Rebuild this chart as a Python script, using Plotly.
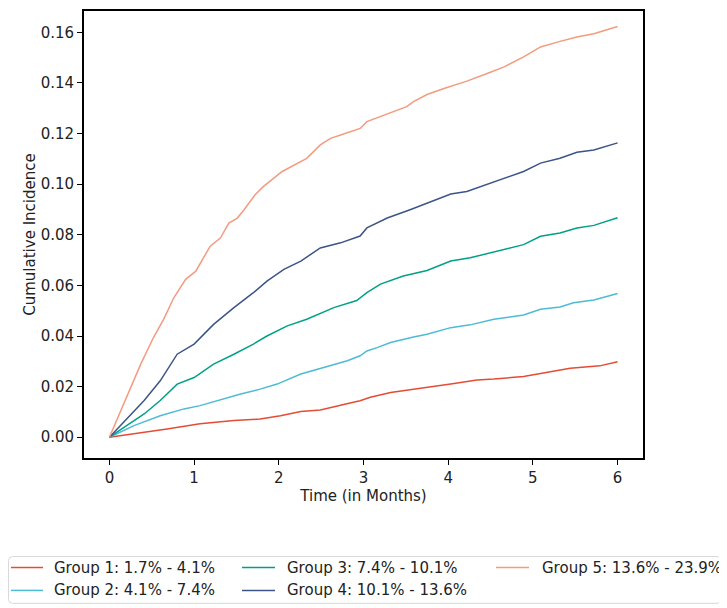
#!/usr/bin/env python3
"""Cumulative incidence by risk group, drawn with plotly."""
import plotly.graph_objects as go

# values (time in months, cumulative incidence)
G1_T = [0, .29, .68, 1.07, 1.47, 1.78, 2.02, 2.26, 2.49, 2.88, 2.96, 3.08, 3.32, 3.59,
        3.75, 4.03, 4.34, 4.54, 4.89, 5.09, 5.32, 5.44, 5.79, 6.0]
G1_V = [0, .0013, .0033, .0053, .0066, .0072, .0085, .0102, .0108, .0138, .0144, .0158,
        .0177, .0190, .0197, .0210, .0226, .0230, .0240, .0252, .0263, .0273, .0282, .0298]

G2_T = [0, .29, .60, .88, 1.07, 1.27, 1.55, 1.78, 1.98, 2.26, 2.53, 2.81, 2.96, 3.04,
        3.16, 3.32, 3.59, 3.75, 4.03, 4.26, 4.54, 4.89, 5.09, 5.32, 5.48, 5.72, 6.0]
G2_V = [0, .0046, .0085, .0112, .0125, .0145, .0171, .0190, .0210, .0250, .0276, .0302,
        .0322, .0341, .0354, .0374, .0396, .0407, .0433, .0444, .0466, .0483, .0506,
        .0515, .0531, .0542, .0568]

G3_T = [0, .41, .60, .80, 1.0, 1.23, 1.47, 1.70, 1.86, 2.10, 2.33, 2.65, 2.92, 3.04,
        3.20, 3.47, 3.75, 4.03, 4.26, 4.54, 4.89, 5.09, 5.32, 5.52, 5.72, 6.0]
G3_V = [0, .0092, .0145, .0210, .0236, .0289, .0328, .0368, .0400, .0440, .0466, .0512,
        .0540, .0571, .0605, .0637, .0659, .0696, .0709, .0732, .0761, .0794, .0807,
        .0827, .0837, .0867]

G4_T = [0, .41, .60, .80, 1.0, 1.23, 1.47, 1.70, 1.86, 2.06, 2.26, 2.49, 2.73, 2.96,
        3.04, 3.16, 3.28, 3.55, 3.75, 4.03, 4.22, 4.46, 4.66, 4.89, 5.09, 5.32, 5.52,
        5.72, 6.0]
G4_V = [0, .0145, .0223, .0328, .0368, .0446, .0512, .0571, .0617, .0663, .0696, .0748,
        .0768, .0795, .0827, .0846, .0866, .0899, .0925, .0961, .0971, .1000, .1024,
        .1050, .1083, .1102, .1126, .1135, .1163]

G5_T = [0, .27, .37, .52, .64, .76, .90, 1.02, 1.19, 1.31, 1.41, 1.51, 1.59, 1.72, 1.82,
        2.04, 2.18, 2.33, 2.49, 2.61, 2.73, 2.96, 3.04, 3.24, 3.51, 3.59, 3.75, 3.95,
        4.22, 4.46, 4.66, 4.89, 5.09, 5.32, 5.52, 5.72, 6.0]
G5_V = [0, .0210, .0289, .0394, .0466, .0551, .0624, .0656, .0755, .0787, .0846, .0866,
        .0899, .0958, .0991, .1050, .1076, .1102, .1155, .1181, .1194, .1220, .1247,
        .1273, .1306, .1326, .1354, .1378, .1407, .1437, .1463, .1503, .1542, .1564,
        .1581, .1594, .1623]

NAMES = ["Group 1: 1.7% - 4.1%", "Group 2: 4.1% - 7.4%", "Group 3: 7.4% - 10.1%",
         "Group 4: 10.1% - 13.6%", "Group 5: 13.6% - 23.9%"]
COLORS = ["#E64B35", "#4DBBD5", "#00A087", "#3C5488", "#F39B7F"]
SERIES = [(G1_T, G1_V), (G2_T, G2_V), (G3_T, G3_V), (G4_T, G4_V), (G5_T, G5_V)]

FONT = "DejaVu Sans"
# the page body keeps an 8px margin, so the figure is 8px smaller each way
W, H = 719, 600
ML, MR, MT, MB = 76, 84, 1, 150
PW, PH = W - ML - MR, H - MT - MB


def px_x(x):
    return (x - ML) / PW


def px_y(y):
    return (H - MB - y) / PH


fig = go.Figure()
for (t, v), name, color in zip(SERIES, NAMES, COLORS):
    fig.add_trace(go.Scatter(x=t, y=v, mode="lines", name=name, showlegend=False,
                             line=dict(color=color, width=1.5)))

axis_common = dict(showline=True, linecolor="black", linewidth=1.7, mirror=True,
                   ticks="outside", ticklen=5, tickwidth=1.2, tickcolor="black",
                   showgrid=False, zeroline=False,
                   tickfont=dict(family=FONT, size=15, color="#222"))

fig.update_xaxes(range=[-0.3, 6.3], tickvals=[0, 1, 2, 3, 4, 5, 6],
                 title=dict(text="Time (in Months)", standoff=4,
                            font=dict(family=FONT, size=15, color="#222")),
                 **axis_common)
fig.update_yaxes(range=[-0.0082, 0.1684], tickvals=[0, .02, .04, .06, .08, .10, .12, .14, .16],
                 tickformat=".2f",
                 title=dict(text="Cumulative Incidence", standoff=1,
                            font=dict(family=FONT, size=15, color="#222")),
                 **axis_common)

fig.update_layout(
    width=W, height=H,
    margin=dict(l=ML, r=MR, t=MT, b=MB),
    plot_bgcolor="white", paper_bgcolor="white",
    showlegend=False,
)

# legend drawn by hand, 3 columns filled top to bottom (matplotlib ncol=3 style)
ROWS_Y = [560, 583]
COLS = [(3, 35, 44), (234, 267, 277), (488, 521, 532)]  # line start, line end, text x
for i, (name, color) in enumerate(zip(NAMES, COLORS)):
    lx0, lx1, tx = COLS[i // 2]
    ry = ROWS_Y[i % 2]
    fig.add_shape(type="line", xref="paper", yref="paper",
                  x0=px_x(lx0), x1=px_x(lx1), y0=px_y(ry), y1=px_y(ry),
                  line=dict(color=color, width=1.5))
    fig.add_annotation(text=name, xref="paper", yref="paper", x=px_x(tx), y=px_y(ry),
                       xanchor="left", yanchor="middle", showarrow=False,
                       font=dict(family=FONT, size=15, color="#222"))

# rounded legend frame
x0, x1 = px_x(0.5), px_x(713)
y0, y1 = px_y(596), px_y(549)
rx, ry = 4 / PW, 4 / PH
path = (f"M {x0 + rx},{y0} L {x1 - rx},{y0} Q {x1},{y0} {x1},{y0 + ry} "
        f"L {x1},{y1 - ry} Q {x1},{y1} {x1 - rx},{y1} L {x0 + rx},{y1} "
        f"Q {x0},{y1} {x0},{y1 - ry} L {x0},{y0 + ry} Q {x0},{y0} {x0 + rx},{y0} Z")
fig.add_shape(type="path", path=path, xref="paper", yref="paper",
              line=dict(color="#d9d9d9", width=1), layer="below")

fig.write_html("out.html")
